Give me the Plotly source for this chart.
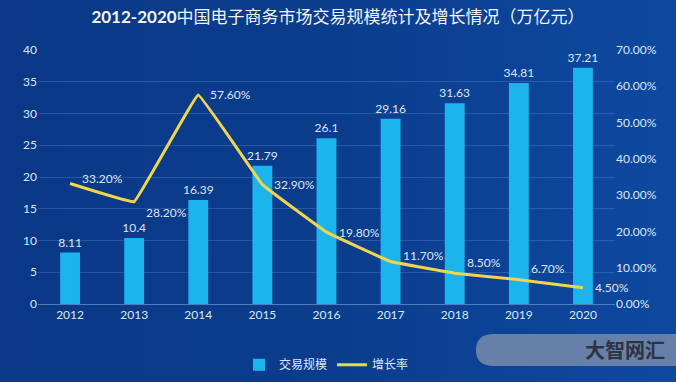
import plotly.graph_objects as go

years = ["2012", "2013", "2014", "2015", "2016", "2017", "2018", "2019", "2020"]
scale = [8.11, 10.4, 16.39, 21.79, 26.1, 29.16, 31.63, 34.81, 37.21]
growth = [33.2, 28.2, 57.6, 32.9, 19.8, 11.7, 8.5, 6.7, 4.5]
# vertical offset (px) of each growth label relative to its point
growth_dy = [5, -11, 0, 0, 0, 6, 11, 11, 0]

txt = "#dce7f5"
fnt = "Lato, 'Noto Sans CJK SC', sans-serif"

fig = go.Figure()
fig.add_trace(go.Bar(
    x=years, y=scale, name="交易规模",
    marker=dict(color="#1cb4ec", line=dict(width=0)),
    text=[f"{v:g}" for v in scale], textposition="outside", constraintext="none",
    textfont=dict(color=txt, size=12), cliponaxis=False,
))
fig.add_trace(go.Scatter(
    x=years, y=growth, name="增长率", yaxis="y2", mode="lines",
    line=dict(color="#f1d54c", width=3, shape="spline", smoothing=0.15),
    cliponaxis=False,
))

annos = []
for i, (g, dy) in enumerate(zip(growth, growth_dy)):
    annos.append(dict(x=i, y=g, xref="x", yref="y2", text=f"{g:.2f}%", showarrow=False,
                      xanchor="left", yanchor="middle", xshift=10, yshift=dy,
                      font=dict(size=12, color=txt)))
annos.append(dict(text="<b>大智网汇</b>", xref="paper", yref="paper",
                  x=1.017, y=-0.181, xanchor="center", yanchor="middle", showarrow=False,
                  font=dict(size=20, color="#2e3440", family="'Noto Sans CJK SC', sans-serif")))

fig.update_layout(
    width=676, height=382,
    margin=dict(l=38, r=61, t=50, b=78, autoexpand=False),
    paper_bgcolor="rgba(0,0,0,0)", plot_bgcolor="rgba(0,0,0,0)",
    font=dict(family=fnt, color=txt, size=12),
    title=dict(text="<b>2012-2020</b>中国电子商务市场交易规模统计及增长情况（万亿元）",
               x=0.5, xanchor="center", y=0.955, yanchor="middle",
               font=dict(size=17, color="#f2f5fa", family=fnt)),
    bargap=0.69,
    showlegend=True,
    legend=dict(orientation="h", x=0.5, xanchor="center", y=0.045, yanchor="middle",
                yref="container", font=dict(size=12, color=txt), bgcolor="rgba(0,0,0,0)"),
    xaxis=dict(type="category", range=[-0.5, len(years) - 0.5],
               showgrid=False, showline=True, linecolor="#4f7dc0", linewidth=1,
               ticks="", tickfont=dict(size=12, color=txt)),
    yaxis=dict(range=[0, 40], dtick=5, showgrid=True, gridcolor="rgba(90,140,210,0.35)",
               gridwidth=1, zeroline=False, ticks="", tickfont=dict(size=12, color=txt)),
    yaxis2=dict(range=[0, 70], dtick=10, overlaying="y", side="right", showgrid=False,
                zeroline=False, ticks="", ticksuffix=".00%", tickfont=dict(size=12, color=txt)),
    shapes=[dict(type="path", xref="paper", yref="paper",
                 path="M 0.79 -0.118 L 1.12 -0.118 L 1.12 -0.244 L 0.79 -0.244 Q 0.759 -0.244 0.759 -0.181 Q 0.759 -0.118 0.79 -0.118 Z",
                 fillcolor="#6680aa", line=dict(width=0), layer="above")],
    annotations=annos,
)

post = ("document.body.style.margin='0';"
        "document.documentElement.style.background='#0b3d8c';"
        "document.body.style.background='linear-gradient(90deg,#0a3887 0%,#0b3d8d 50%,#0e49a0 100%)';"
        "document.body.style.minHeight='100vh';")
fig.write_html("out.html", post_script=post, config={"displayModeBar": False})
